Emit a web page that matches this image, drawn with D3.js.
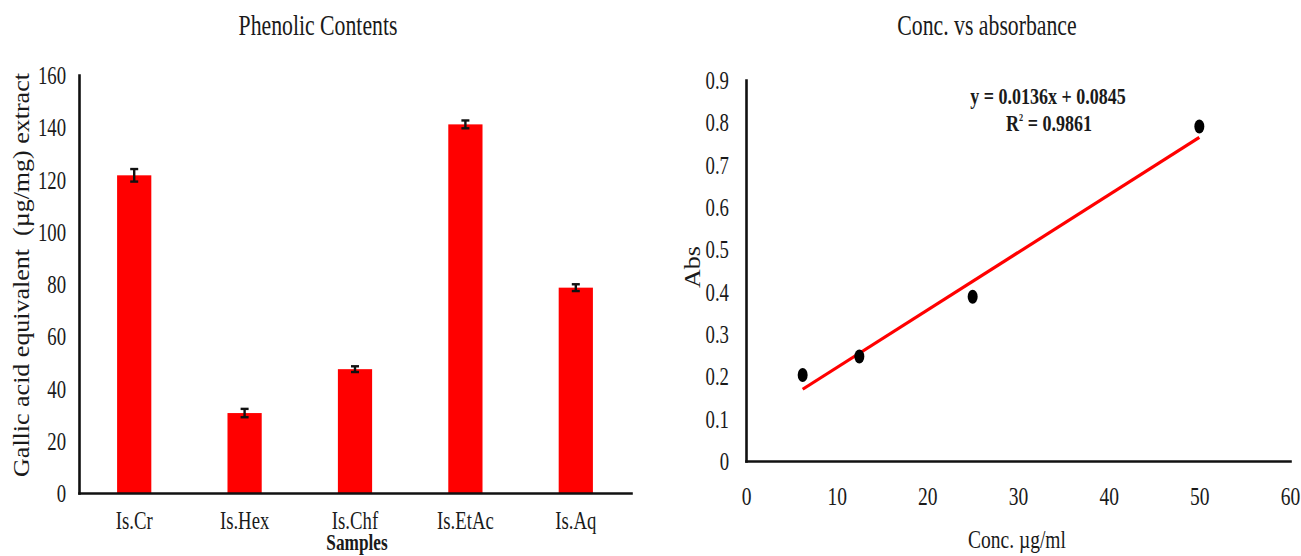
<!DOCTYPE html>
<html>
<head>
<meta charset="utf-8">
<script src="https://cdn.jsdelivr.net/npm/d3@7"></script>
<style>
  html, body { margin: 0; padding: 0; background: #fff; }
  svg { display: block; }
  text { font-family: "Liberation Serif", "Times New Roman", serif; fill: #1a1a1a; }
</style>
</head>
<body>
<svg id="chart" width="1301" height="556"></svg>
<script>
// Phenolic contents per extract (gallic acid equivalent, µg/mg) with error
const samples = ["Is.Cr", "Is.Hex", "Is.Chf", "Is.EtAc", "Is.Aq"];
const phenolic = [121.6, 30.6, 47.4, 141.1, 78.6];
const phenolicErr = [2.4, 1.6, 1.1, 1.5, 1.3];
const phenolicTicks = [0, 20, 40, 60, 80, 100, 120, 140, 160];

// Calibration: concentration (µg/ml) vs absorbance
const conc = [6.25, 12.5, 25, 50];
const absorbance = [0.203, 0.247, 0.388, 0.79];
const concTicks = [0, 10, 20, 30, 40, 50, 60];
const absTicks = [0, 0.1, 0.2, 0.3, 0.4, 0.5, 0.6, 0.7, 0.8, 0.9];
const absTickLabels = ["0", "0.1", "0.2", "0.3", "0.4", "0.5", "0.6", "0.7", "0.8", "0.9"];
const slope = 0.0136;
const intercept = 0.0845;
const rSquared = 0.9861;

const svg = d3.select("#chart");
const SX = 0.75;           // condensed glyph width
const RED = "#ff0000";

function label(g, txt, x, y, size, opts = {}) {
  const sx = opts.rotate ? 0.85 : SX;
  const t = g.append("text")
    .attr("transform", `translate(${x},${y}) scale(${sx},1)` + (opts.rotate ? ` rotate(${opts.rotate})` : ""))
    .attr("text-anchor", opts.anchor || "middle")
    .attr("font-size", size)
    .style("white-space", "pre")
    .text(txt);
  if (opts.bold) t.attr("font-weight", "bold");
  if (opts.dy) t.attr("dy", opts.dy);
  return t;
}

function styleDomain(g) {
  g.select(".domain").attr("stroke", "#111").attr("stroke-width", 2.6).attr("stroke-linecap", "square");
}

// ---------- Left: bar chart ----------
const left = svg.append("g");
const bx = d3.scaleBand().domain(samples).range([79, 631]);
const by = d3.scaleLinear().domain([0, 160]).range([493, 75]);
const barW = bx.bandwidth() * 0.31;

left.selectAll("rect.bar")
  .data(samples)
  .join("rect")
  .attr("class", "bar")
  .attr("x", d => bx(d) + bx.bandwidth() / 2 - barW / 2)
  .attr("y", (d, i) => by(phenolic[i]))
  .attr("width", barW)
  .attr("height", (d, i) => by(0) - by(phenolic[i]))
  .attr("fill", RED);

// error bars
const eb = left.selectAll("g.err").data(samples).join("g").attr("class", "err")
  .attr("stroke", "#111").attr("stroke-width", 2.4);
eb.append("line")
  .attr("x1", d => bx(d) + bx.bandwidth() / 2).attr("x2", d => bx(d) + bx.bandwidth() / 2)
  .attr("y1", (d, i) => by(phenolic[i] + phenolicErr[i]))
  .attr("y2", (d, i) => by(phenolic[i] - phenolicErr[i]));
[1, -1].forEach(s => {
  eb.append("line")
    .attr("x1", d => bx(d) + bx.bandwidth() / 2 - 4).attr("x2", d => bx(d) + bx.bandwidth() / 2 + 4)
    .attr("y1", (d, i) => by(phenolic[i] + s * phenolicErr[i]))
    .attr("y2", (d, i) => by(phenolic[i] + s * phenolicErr[i]));
});

const lyAxis = left.append("g").attr("transform", "translate(79,0)")
  .call(d3.axisLeft(by).tickValues(phenolicTicks).tickSize(0).tickSizeOuter(0).tickFormat(d3.format("d")));
styleDomain(lyAxis);
lyAxis.selectAll(".tick text")
  .attr("x", 0).attr("dy", "0.34em").attr("text-anchor", "end")
  .attr("font-size", 25).attr("font-family", null)
  .attr("transform", `translate(-13,0) scale(${SX},1)`);

const lxAxis = left.append("g").attr("transform", "translate(0,493)")
  .call(d3.axisBottom(bx).tickSize(0).tickSizeOuter(0));
styleDomain(lxAxis);
lxAxis.selectAll(".tick text")
  .attr("y", 0).attr("dy", null)
  .attr("font-size", 25).attr("font-family", null)
  .attr("transform", `translate(0,36) scale(${SX},1)`);

label(left, "Phenolic Contents", 318, 35, 29);
label(left, "Samples", 357, 550, 23, { bold: true });
label(left, "Gallic acid equivalent  (µg/mg) extract", 21, 275, 26, { rotate: -90, dy: "0.35em" });

// ---------- Right: calibration scatter ----------
const right = svg.append("g");
const sx = d3.scaleLinear().domain([0, 60]).range([746, 1290]);
const sy = d3.scaleLinear().domain([0, 0.9]).range([461, 80]);

const ryAxis = right.append("g").attr("transform", "translate(746,0)")
  .call(d3.axisLeft(sy).tickValues(absTicks).tickSize(0).tickSizeOuter(0)
    .tickFormat((d, i) => absTickLabels[i]));
styleDomain(ryAxis);
ryAxis.selectAll(".tick text")
  .attr("x", 0).attr("dy", "0.34em").attr("text-anchor", "end")
  .attr("font-size", 25).attr("font-family", null)
  .attr("transform", `translate(-17,0) scale(${SX},1)`);

const rxAxis = right.append("g").attr("transform", "translate(0,461)")
  .call(d3.axisBottom(sx).tickValues(concTicks).tickSize(0).tickSizeOuter(0).tickFormat(d3.format("d")));
styleDomain(rxAxis);
rxAxis.selectAll(".tick text")
  .attr("y", 0).attr("dy", null)
  .attr("font-size", 26).attr("font-family", null)
  .attr("transform", `translate(0,44) scale(${SX},1)`);

// linear fit over the measured range
const fitX = d3.extent(conc);
right.append("line")
  .attr("x1", sx(fitX[0])).attr("y1", sy(slope * fitX[0] + intercept))
  .attr("x2", sx(fitX[1])).attr("y2", sy(slope * fitX[1] + intercept))
  .attr("stroke", RED).attr("stroke-width", 3.2);

right.selectAll("ellipse.pt")
  .data(conc)
  .join("ellipse")
  .attr("class", "pt")
  .attr("cx", d => sx(d))
  .attr("cy", (d, i) => sy(absorbance[i]))
  .attr("rx", 5).attr("ry", 7)
  .attr("fill", "#000");

label(right, "Conc. vs absorbance", 987, 35, 29);
label(right, "Conc. µg/ml", 1017, 548, 26);
label(right, "Abs", 692, 267, 26, { rotate: -90, dy: "0.35em" });
label(right, `y = ${slope}x + ${intercept}`, 1048, 104, 24, { bold: true });
const r2 = label(right, "R", 1049, 131, 24, { bold: true });
r2.append("tspan").attr("font-size", 11).attr("dy", -10).text("2");
r2.append("tspan").attr("dy", 10).text(` = ${rSquared}`);
</script>
</body>
</html>
